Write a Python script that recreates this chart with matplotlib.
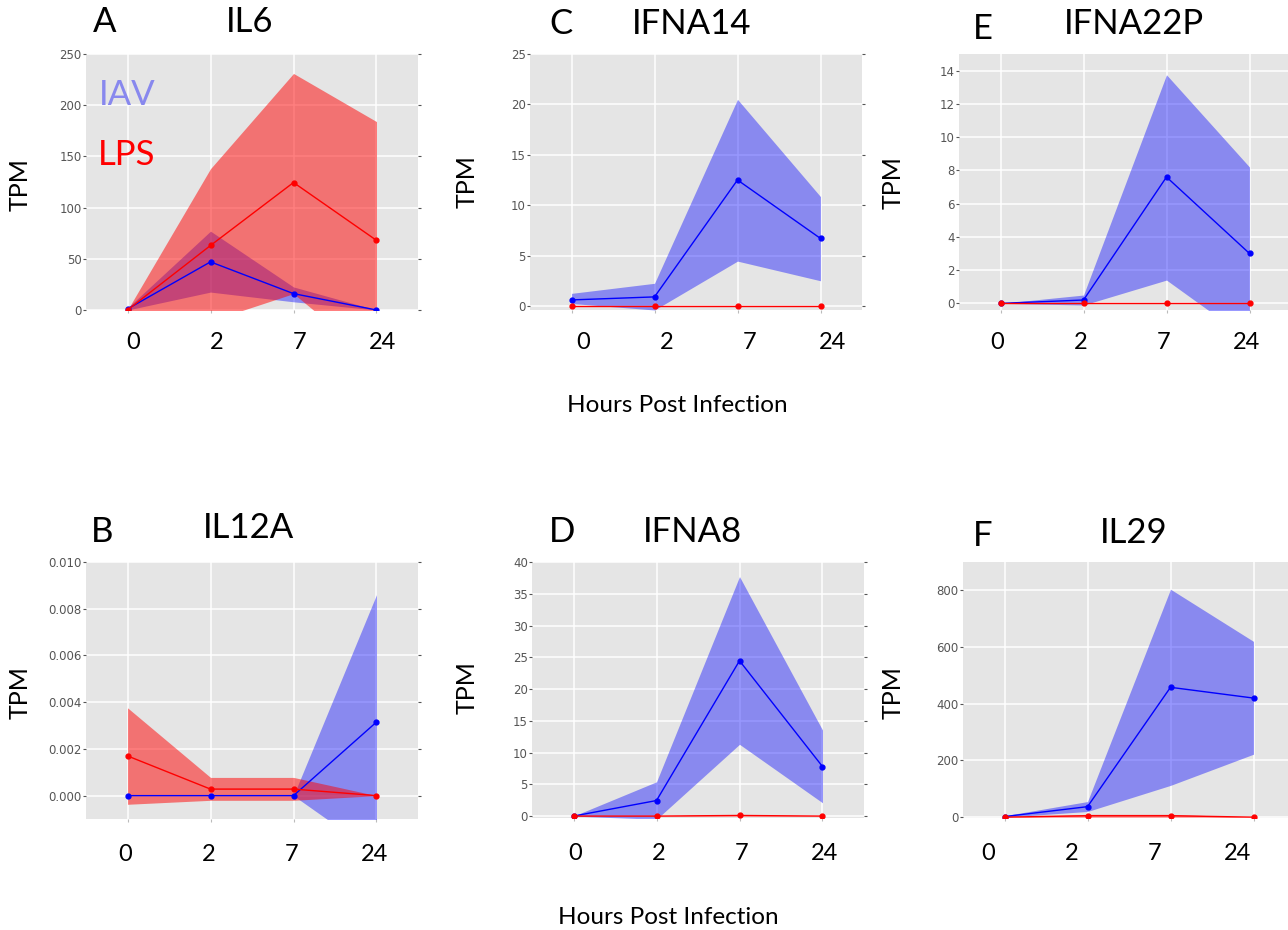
import numpy as np
import matplotlib
matplotlib.use("Agg")
import matplotlib.pyplot as plt
import matplotlib.transforms as mtransforms


HOURS = ["0", "2", "7", "24"]

# IL6
IL6_IAV_MEAN = [1, 47, 16, 0]
IL6_IAV_LOW = [0, 17.5, 8, 0]
IL6_IAV_HIGH = [2, 77, 22.5, 0]
IL6_LPS_MEAN = [0, 63, 124.5, 68]
IL6_LPS_LOW = [0, -10.7, 16, -51]
IL6_LPS_HIGH = [0, 138, 231, 184]

# IL12A
IL12A_IAV_MEAN = [0, 0, 0, 0.00315]
IL12A_IAV_LOW = [0, 0, 0, -0.0025]
IL12A_IAV_HIGH = [0, 0, 0, 0.0086]
IL12A_LPS_MEAN = [0.0017, 0.00028, 0.00028, 0]
IL12A_LPS_LOW = [-0.00037, -0.0002, -0.0002, 0]
IL12A_LPS_HIGH = [0.00376, 0.00078, 0.00078, 0]

# IFNA14
IFNA14_IAV_MEAN = [0.6, 0.9, 12.5, 6.7]
IFNA14_IAV_LOW = [0.25, -0.4, 4.45, 2.5]
IFNA14_IAV_HIGH = [1.25, 2.25, 20.5, 10.85]
IFNA14_LPS_MEAN = [0, 0, 0, 0]
IFNA14_LPS_LOW = [0, 0, 0, 0]
IFNA14_LPS_HIGH = [0.02, 0.02, 0.02, 0.02]

# IFNA8
IFNA8_IAV_MEAN = [0, 2.45, 24.45, 7.8]
IFNA8_IAV_LOW = [0, -0.5, 11.3, 2.1]
IFNA8_IAV_HIGH = [0, 5.4, 37.7, 13.55]
IFNA8_LPS_MEAN = [0, 0, 0.1, 0]
IFNA8_LPS_LOW = [0, 0, 0, 0]
IFNA8_LPS_HIGH = [0, 0.05, 0.2, 0.05]

# IFNA22P
IFNA22P_IAV_MEAN = [0, 0.2, 7.6, 3.0]
IFNA22P_IAV_LOW = [0, -0.1, 1.4, -2.2]
IFNA22P_IAV_HIGH = [0, 0.5, 13.75, 8.2]
IFNA22P_LPS_MEAN = [0, 0, 0, 0]
IFNA22P_LPS_LOW = [0, 0, 0, 0]
IFNA22P_LPS_HIGH = [0, 0, 0, 0]

# IL29
IL29_IAV_MEAN = [2, 37, 458, 420]
IL29_IAV_LOW = [0, 20, 112, 222]
IL29_IAV_HIGH = [5, 55, 804, 620]
IL29_LPS_MEAN = [0, 5, 5, 0]
IL29_LPS_LOW = [0, 0, 0, 0]
IL29_LPS_HIGH = [0, 10, 10, 0]


PANEL_BG = "#e5e5e5"
TICK_GREY = "#555555"
TEXT_FONT = "Lato"

plt.rcParams["font.family"] = "DejaVu Sans"

fig = plt.figure(figsize=(12.88, 9.30), dpi=100)
FIG_W, FIG_H = 1288, 930


def add_panel(left, top, width, height):
    # pixel box -> figure fraction
    return fig.add_axes([left / FIG_W, (FIG_H - top - height) / FIG_H,
                         width / FIG_W, height / FIG_H])


def draw_panel(ax, data, ylim, yticks, yfmt, label_shift, pad):
    iav_mean, iav_low, iav_high, lps_mean, lps_low, lps_high = data
    x = np.arange(len(HOURS))

    ax.set_facecolor(PANEL_BG)
    ax.fill_between(x, iav_low, iav_high, color="blue", alpha=0.4,
                    linewidth=0, zorder=2)
    ax.fill_between(x, lps_low, lps_high, color="red", alpha=0.5,
                    linewidth=0, zorder=3)
    ax.plot(x, iav_mean, color="blue", lw=1.0, marker="o", ms=3.5, zorder=4)
    ax.plot(x, lps_mean, color="red", lw=1.0, marker="o", ms=3.5, zorder=5)

    ax.set_xlim(-0.5, 3.5)
    ax.set_ylim(*ylim)
    ax.set_yticks(yticks)
    ax.set_yticklabels([yfmt.format(v) for v in yticks])
    ax.set_xticks(x)
    ax.set_xticklabels(HOURS, fontsize=17, fontfamily=TEXT_FONT)

    ax.grid(True, color="white", linewidth=1.1, zorder=1)
    ax.set_axisbelow(True)
    for spine in ax.spines.values():
        spine.set_visible(False)

    ax.tick_params(axis="y", which="both", left=True, right=True,
                   length=2.5, width=0.8, color=TICK_GREY,
                   labelcolor=TICK_GREY, labelsize=8.5, pad=0.5)
    ax.tick_params(axis="x", length=2, width=0.8, color="#bbbbbb",
                   pad=pad)

    shift = mtransforms.ScaledTranslation(label_shift / 100, 0,
                                          fig.dpi_scale_trans)
    for lab in ax.get_xticklabels():
        lab.set_transform(lab.get_transform() + shift)


ax_a = add_panel(86, 54, 332, 256)
draw_panel(ax_a, [IL6_IAV_MEAN, IL6_IAV_LOW, IL6_IAV_HIGH,
                  IL6_LPS_MEAN, IL6_LPS_LOW, IL6_LPS_HIGH],
           (0, 250), [0, 50, 100, 150, 200, 250], "{:.0f}", 6, 14)

ax_c = add_panel(530, 54, 332, 256)
draw_panel(ax_c, [IFNA14_IAV_MEAN, IFNA14_IAV_LOW, IFNA14_IAV_HIGH,
                  IFNA14_LPS_MEAN, IFNA14_LPS_LOW, IFNA14_LPS_HIGH],
           (-0.4, 25), [0, 5, 10, 15, 20, 25], "{:.0f}", 12, 14)

ax_e = add_panel(959, 54, 332, 256)
draw_panel(ax_e, [IFNA22P_IAV_MEAN, IFNA22P_IAV_LOW, IFNA22P_IAV_HIGH,
                  IFNA22P_LPS_MEAN, IFNA22P_LPS_LOW, IFNA22P_LPS_HIGH],
           (-0.4, 15), [0, 2, 4, 6, 8, 10, 12, 14], "{:.0f}", -3, 14)

ax_b = add_panel(86, 562, 332, 257)
draw_panel(ax_b, [IL12A_IAV_MEAN, IL12A_IAV_LOW, IL12A_IAV_HIGH,
                  IL12A_LPS_MEAN, IL12A_LPS_LOW, IL12A_LPS_HIGH],
           (-0.001, 0.010), [0, 0.002, 0.004, 0.006, 0.008, 0.010],
           "{:.3f}", -2, 16)

ax_d = add_panel(532, 562, 332, 256)
draw_panel(ax_d, [IFNA8_IAV_MEAN, IFNA8_IAV_LOW, IFNA8_IAV_HIGH,
                  IFNA8_LPS_MEAN, IFNA8_LPS_LOW, IFNA8_LPS_HIGH],
           (-0.3, 40), [0, 5, 10, 15, 20, 25, 30, 35, 40], "{:.0f}", 2, 16)

ax_f = add_panel(963, 562, 332, 256)
draw_panel(ax_f, [IL29_IAV_MEAN, IL29_IAV_LOW, IL29_IAV_HIGH,
                  IL29_LPS_MEAN, IL29_LPS_LOW, IL29_LPS_HIGH],
           (-3, 900), [0, 200, 400, 600, 800], "{:.0f}", -16, 16)


def fig_text(px, py, s, size, **kw):
    fig.text(px / FIG_W, 1 - py / FIG_H, s, fontsize=size,
             fontfamily=TEXT_FONT, ha="center", va="center", **kw)


# panel letters and gene titles
for letter, lx, ly, title, tx, ty in [
    ("A", 105, 22, "IL6", 250, 22),
    ("C", 561, 24, "IFNA14", 692, 24),
    ("E", 983, 29, "IFNA22P", 1134, 24),
    ("B", 102, 532, "IL12A", 248, 528),
    ("D", 562, 532, "IFNA8", 692, 532),
    ("F", 983, 536, "IL29", 1134, 533),
]:
    fig_text(lx, ly, letter, 25)
    fig_text(tx, ty, title, 25)

for tx, ty in [(20, 185), (467, 182), (893, 183),
               (20, 693), (467, 688), (893, 693)]:
    fig_text(tx, ty, "TPM", 18, rotation=90)

fig_text(677, 405, "Hours Post Infection", 17.5)
fig_text(668, 917, "Hours Post Infection", 17.5)

# legend text inside panel A
fig_text(127, 95, "IAV", 25, color="#8888ee")
fig_text(127, 155, "LPS", 25, color="red")

fig.savefig("out.png", dpi=100)
